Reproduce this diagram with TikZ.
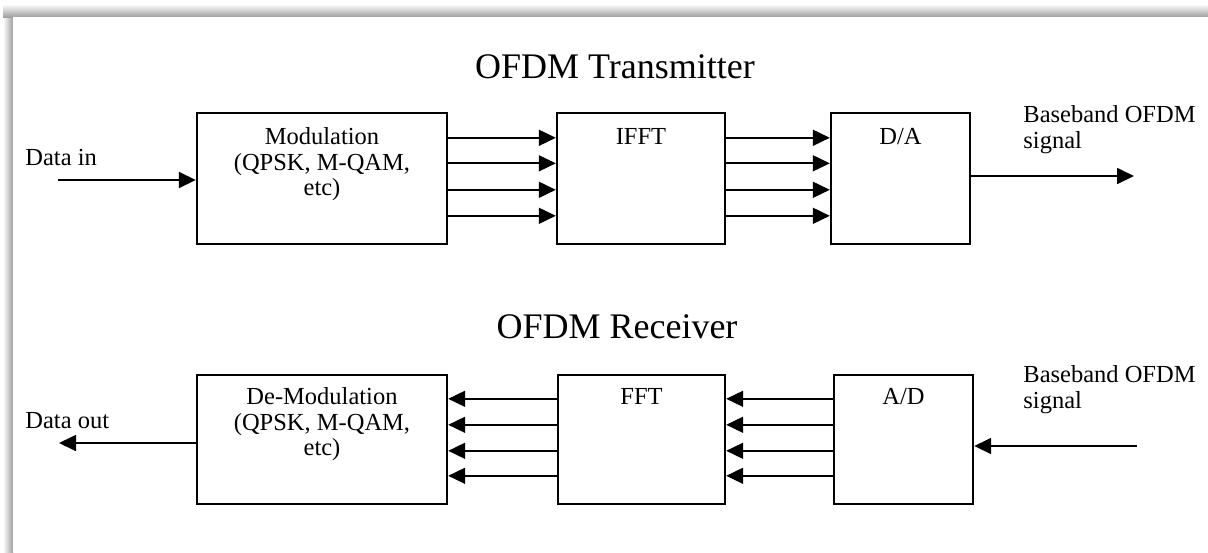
\documentclass[tikz,border=0pt]{standalone}
\usepackage{fontspec}
\setmainfont{Liberation Serif}
\usepackage{tikz}
\usetikzlibrary{arrows.meta,calc}
\tikzset{
  blockbox/.style={draw, line width=1.2pt, inner sep=0pt},
  sigline/.style={-{Triangle[length=8.5pt,width=8pt]}, line width=0.85pt},
  boxtext/.style={anchor=base, align=center, inner sep=0pt,
    font=\fontsize{12.25pt}{12.75pt}\selectfont},
  sidetext/.style={anchor=base west, align=left, inner sep=0pt,
    font=\fontsize{12.25pt}{12.75pt}\selectfont},
  headline/.style={anchor=base, inner sep=0pt, font=\fontsize{18pt}{20pt}\selectfont},
}
\newcommand{\ofdmsig}{Baseband OFDM\\signal}
\begin{document}
\begin{tikzpicture}[x=0.5pt, y=-0.5pt]
    \useasboundingbox (0,0) rectangle (1208,552);
    % frame edge
    \shade[left color=white, right color=gray!75] (3,4) rectangle (13,552);
    \shade[top color=white, bottom color=gray!75] (3,4) rectangle (1208,17);
    \fill[white] (13,17) rectangle (1208,552);
    % titles
    \node[headline] (txtitle) at (615,78) {OFDM Transmitter};
    \node[headline] (rxtitle) at (617,338) {OFDM Receiver};
    % transmitter blocks (sizes in pt, half the pixel size)
    \node[blockbox, minimum width=125pt, minimum height=65.5pt] (mod) at (322,178.5) {};
    \node[blockbox, minimum width=84pt, minimum height=65.5pt] (ifft) at (641,178.5) {};
    \node[blockbox, minimum width=69.5pt, minimum height=65.5pt] (da) at (900.5,178.5) {};
    % base of a multi-line node sits on its last line
    \node[boxtext] (modtxt) at ($(mod.north)+(0,84)$)
      {Modulation\\(QPSK, M-QAM,\\etc)};
    \node[boxtext] (iffttxt) at ($(ifft.north)+(0,33)$) {IFFT};
    \node[boxtext] (datxt) at ($(da.north)+(0,33)$) {D/A};
    % receiver blocks
    \node[blockbox, minimum width=125pt, minimum height=64.5pt] (demod) at (322,439.5) {};
    \node[blockbox, minimum width=83.5pt, minimum height=64.5pt] (fft) at (641.5,439.5) {};
    \node[blockbox, minimum width=69.5pt, minimum height=64.5pt] (ad) at (903.5,439.5) {};
    \node[boxtext] (demodtxt) at ($(demod.north)+(0,82)$)
      {De-Modulation\\(QPSK, M-QAM,\\etc)};
    \node[boxtext] (ffttxt) at ($(fft.north)+(0,31)$) {FFT};
    \node[boxtext] (adtxt) at ($(ad.north)+(0,31)$) {A/D};
    % parallel streams
    \foreach \dy in {26,51.5,78,104} {
      \draw[sigline] ($(mod.north east)+(0,\dy)$) -- ($(ifft.north west)+(0,\dy)$);
      \draw[sigline] ($(ifft.north east)+(0,\dy)$) -- ($(da.north west)+(0,\dy)$);
    }
    \foreach \dy in {25,51,77,102} {
      \draw[sigline] ($(fft.north west)+(0,\dy)$) -- ($(demod.north east)+(0,\dy)$);
      \draw[sigline] ($(ad.north west)+(0,\dy)$) -- ($(fft.north east)+(0,\dy)$);
    }
    % ins and outs
    \coordinate (txin) at (58,180);
    \coordinate (txout) at (1134,176);
    \coordinate (rxin) at (1137,446);
    \coordinate (rxout) at (59,443);
    \node[sidetext] (txinlbl) at (25,165) {Data in};
    \node[sidetext] (rxoutlbl) at (25,428) {Data out};
    \node[sidetext] (txoutlbl) at (1023,148) {\ofdmsig};
    \node[sidetext] (rxinlbl) at (1023,408) {\ofdmsig};
    \draw[sigline] (txin) -- (txin -| mod.west);
    \draw[sigline] (txout -| da.east) -- (txout);
    \draw[sigline] (rxin) -- (rxin -| ad.east);
    \draw[sigline] (rxout -| demod.west) -- (rxout);
\end{tikzpicture}
\end{document}
